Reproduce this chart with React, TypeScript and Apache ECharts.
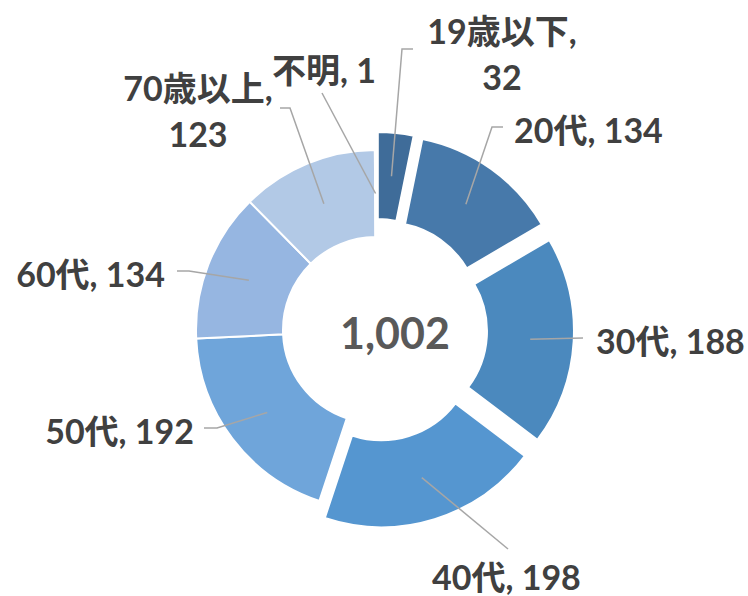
import React, { useEffect, useRef } from "react";
import * as echarts from "echarts";

// ---- data ----
const categories = ["19歳以下", "20代", "30代", "40代", "50代", "60代", "70歳以上", "不明"];
const values = [32, 134, 188, 198, 192, 134, 123, 1];
const explodedFlags = [true, true, true, true, false, false, false, false];
const totalLabel = "1,002";

// ---- styling / layout (not data) ----
const sliceColors = ["#3F6C99", "#4779AA", "#4B89BE", "#5596D0", "#6FA5DA", "#96B6E1", "#B2C9E6", "#C9D8EE"];
const CENTER: [number, number] = [376, 330];
const R_IN = 93;
const R_OUT = 180;
const EXPLODE = 18;
const FONT = "Lato, 'Noto Sans CJK JP', sans-serif";

// label anchor + leader-line bend points (annotation layout)
const labelSpots: { x: number; y: number; align: string; path: number[][] }[] = [
  { x: 502, y: 53, align: "center", path: [[402, 49], [413, 49]] },
  { x: 514, y: 129, align: "left", path: [[492, 127], [503, 127]] },
  { x: 596, y: 340, align: "left", path: [[583, 338], [583, 338]] },
  { x: 432, y: 576, align: "left", path: [[508, 549], [508, 549]] },
  { x: 194, y: 430, align: "right", path: [[217, 428], [204, 428]] },
  { x: 165, y: 273, align: "right", path: [[189, 271], [177, 271]] },
  { x: 198, y: 110, align: "center", path: [[290, 108], [280, 108]] },
  { x: 376, y: 69, align: "right", path: [[322, 93], [322, 93]] },
];

const wrapped = categories.map((c) => c === "19歳以下" || c === "70歳以上");
const labelTexts = categories.map((c, i) =>
  wrapped[i] ? `${c},\n${values[i]}` : `${c}, ${values[i]}`
);

function midAngle(i: number): number {
  const total = values.reduce((a, b) => a + b, 0);
  let before = 0;
  for (let k = 0; k < i; k++) before += values[k];
  return ((before + values[i] / 2) / total) * Math.PI * 2; // clockwise from top
}

export default function App() {
  const ref = useRef<HTMLDivElement>(null);
  useEffect(() => {
    if (!ref.current) return;
    const chart = echarts.init(ref.current, undefined, { renderer: "svg" });
    const data = categories.map((name, i) => ({
      name,
      value: values[i],
      selected: explodedFlags[i],
      itemStyle: { color: sliceColors[i] },
    }));
    chart.setOption({
      animation: false,
      backgroundColor: "#ffffff",
      series: [
        {
          type: "pie",
          center: CENTER,
          radius: [R_IN, R_OUT],
          startAngle: 90,
          clockwise: true,
          selectedMode: "multiple",
          selectedOffset: EXPLODE,
          silent: true,
          emphasis: { disabled: true, scale: false },
          select: { itemStyle: { borderColor: "#ffffff", borderWidth: 2 } },
          itemStyle: { borderColor: "#ffffff", borderWidth: 2 },
          label: { show: false },
          labelLine: { show: false },
          data,
        },
        {
          type: "pie",
          center: CENTER,
          radius: [R_IN, R_OUT],
          startAngle: 90,
          clockwise: true,
          silent: true,
          z: 5,
          emphasis: { disabled: true, scale: false },
          itemStyle: { color: "rgba(0,0,0,0)", borderWidth: 0 },
          label: {
            show: true,
            position: "outside",
            formatter: (p: any) => labelTexts[p.dataIndex],
            color: "#404040",
            fontSize: 34,
            fontWeight: "bold",
            fontFamily: FONT,
            lineHeight: 34,
          },
          labelLine: {
            show: true,
            length: 10,
            length2: 10,
            lineStyle: { color: "#A6A6A6", width: 1.5 },
          },
          labelLayout: (params: any) => {
            const i = params.dataIndex;
            const a = midAngle(i);
            const dx = Math.sin(a);
            const dy = -Math.cos(a);
            const off = explodedFlags[i] ? EXPLODE : 0;
            const rm = (R_IN + R_OUT) / 2;
            const sx = CENTER[0] + dx * (off + rm);
            const sy = CENTER[1] + dy * (off + rm);
            const spot = labelSpots[i];
            return {
              x: spot.x,
              y: spot.y,
              align: spot.align,
              verticalAlign: "middle",
              labelLinePoints: [[sx, sy], ...spot.path],
            };
          },
          data: categories.map((name, i) => ({
            name,
            value: values[i],
            label: wrapped[i] ? { lineHeight: 46 } : undefined,
          })),
        },
      ],
      graphic: [
        {
          type: "text",
          x: 395,
          y: 332,
          style: {
            text: totalLabel,
            fill: "#595959",
            font: `bold 43px ${FONT}`,
            textAlign: "center",
            textVerticalAlign: "middle",
          },
        },
      ],
    });
    return () => chart.dispose();
  }, []);
  return (
    <div
      ref={ref}
      style={{ position: "fixed", left: 0, top: 0, width: 748, height: 596 }}
    />
  );
}
